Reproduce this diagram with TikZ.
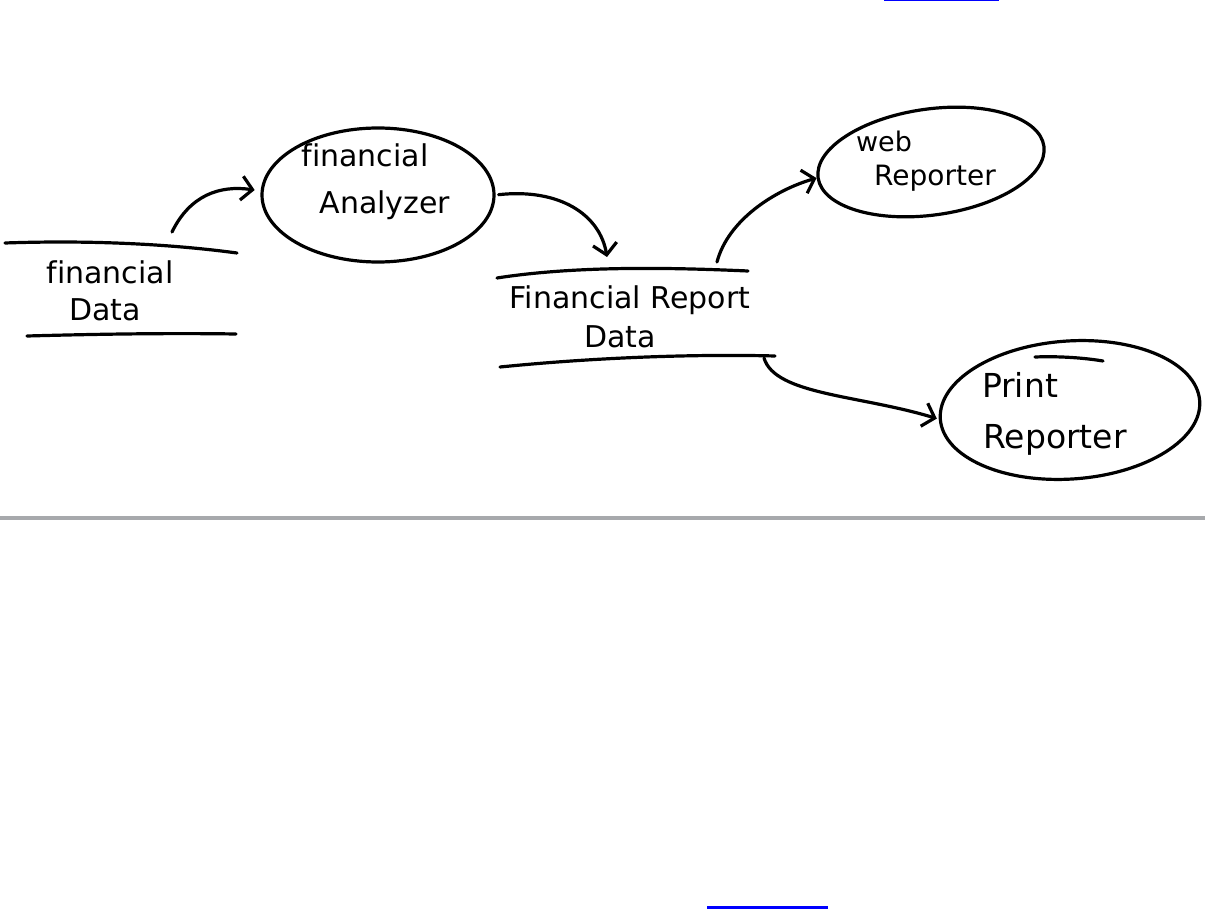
\documentclass[tikz,border=0pt]{standalone}
\usepackage{fontspec}
\setmainfont[Ligatures=NoCommon]{DejaVu Sans}
\usetikzlibrary{shapes.geometric,arrows.meta}
\definecolor{rulegray}{RGB}{167,169,172}
\definecolor{linkblue}{RGB}{0,0,255}
\begin{document}
\begin{tikzpicture}[x=1pt,y=-1pt,
  ink/.style={line width=3.2pt,line cap=round,line join=round,draw=black},
  flow/.style={ink,-{Straight Barb[length=11pt,width=24pt]}},
  proc/.style={ellipse,ink,inner sep=0pt},
  lbl/.style={inner sep=0pt,font=\fontsize{30}{36}\selectfont},
]
\useasboundingbox (0,0) rectangle (1205,909);

% page decorations
\draw[linkblue,line width=2pt] (884,0) -- (999,0);
\draw[linkblue,line width=3pt] (707,907.5) -- (828,907.5);
\draw[rulegray,line width=4pt] (0,518) -- (1205,518);

% processes
\node[proc,minimum width=232pt,minimum height=134pt] (fa) at (378,195) {};
\node[proc,minimum width=228pt,minimum height=106pt,rotate=8] (web) at (931,162) {};
\node[proc,minimum width=260pt,minimum height=138pt,rotate=4] (print) at (1070,410) {};
\draw[ink] (1035,357) .. controls (1060,356) and (1085,358) .. (1103,361);

% labels
\node[lbl] (fdl1) at (110,272) {financial};
\node[lbl] (fdl2) at (105,310) {Data};
\node[lbl] (fal1) at (365,155) {financial};
\node[lbl] (fal2) at (385,205) {Analyzer};
\node[lbl] (frl1) at (630,300) {Financial Report};
\node[lbl] (frl2) at (620,337) {Data};
\node[lbl,font=\fontsize{27}{32}\selectfont] (wl1) at (884,141) {web};
\node[lbl,font=\fontsize{28}{34}\selectfont] (wl2) at (935,178) {Reporter};
\node[lbl,font=\fontsize{33}{40}\selectfont] (pl1) at (1020,385) {Print};
\node[lbl,font=\fontsize{33}{40}\selectfont] (pl2) at (1055,440) {Reporter};

% data stores
\coordinate (fdTL) at (5,243);   \coordinate (fdTR) at (237,253);
\coordinate (fdBL) at (27,336);  \coordinate (fdBR) at (236,334);
\draw[ink] (fdTL) .. controls (90,240) and (170,244) .. (fdTR);
\draw[ink] (fdBL) .. controls (100,334) and (170,333) .. (fdBR);

\coordinate (frTL) at (497,278); \coordinate (frTR) at (748,271);
\coordinate (frBL) at (500,367); \coordinate (frBR) at (775,356);
\draw[ink] (frTL) .. controls (580,265) and (680,268) .. (frTR);
\draw[ink] (frBL) .. controls (600,357) and (700,354) .. (frBR);

% flows
\coordinate (fdOut) at (172,232);
\coordinate (frIn) at (607,257);
\coordinate (frOut1) at (717,262);
\coordinate (frOut2) at (764,358);
\draw[flow,shorten >=6pt] (fdOut) .. controls (190,195) and (220,185) .. (fa.178);
\draw[flow,shorten <=3pt] (fa.east) .. controls (560,188) and (600,215) .. (frIn);
\draw[flow] (frOut1) .. controls (728,220) and (775,190) .. (web.west);
\draw[flow,shorten >=2pt] (frOut2) .. controls (775,395) and (860,395) .. (print.west);
\end{tikzpicture}
\end{document}
